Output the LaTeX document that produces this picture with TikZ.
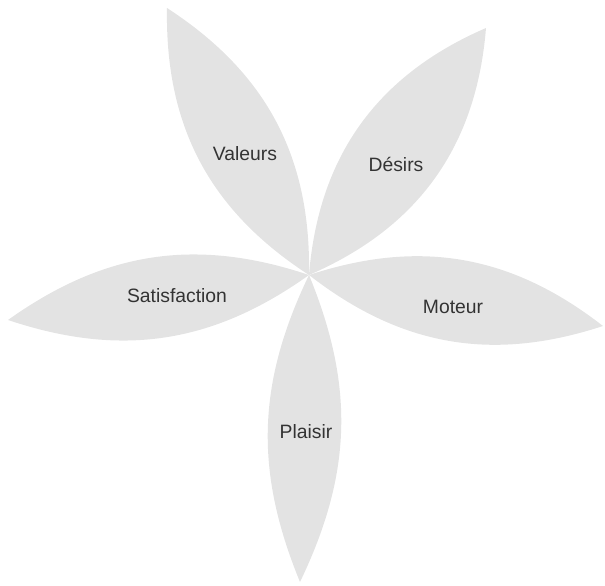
\documentclass[tikz,border=0pt]{standalone}
\usepackage{fontspec}
\setmainfont{Liberation Sans}
\usetikzlibrary{positioning}
\definecolor{PetalGrey}{HTML}{E3E3E3}
\definecolor{PetalText}{HTML}{333333}

\begin{document}
\begin{tikzpicture}[x=0.03cm,y=-0.03cm,
  petal/.style={fill=PetalGrey,draw=none},
  label/.style={text=PetalText,font=\fontsize{16.5}{19}\selectfont,inner sep=0pt}
]
\useasboundingbox (0,0) rectangle (605,586);
\coordinate (heart) at (309,275);
\coordinate (valtip) at (167,8);
\coordinate (destip) at (486,28);
\coordinate (mottip) at (603,326);
\coordinate (plaitip) at (300,582);
\coordinate (sattip) at (8,320);
% petals
\fill[petal] (heart) to[bend left=29] (valtip) to[bend left=29] (heart);
\fill[petal] (heart) to[bend left=31] (destip) to[bend left=31] (heart);
\fill[petal] (heart) to[bend left=28] (mottip) to[bend left=28] (heart);
\fill[petal] (heart) to[bend left=24] (plaitip) to[bend left=24] (heart);
\fill[petal] (heart) to[bend left=27] (sattip) to[bend left=27] (heart);
% labels
\node[label] (valeurs) at (245,154) {Valeurs};
\node[label] (desirs) at (396,164) {Désirs};
\node[label] (moteur) at (453,307) {Moteur};
\node[label] (plaisir) at (306,432) {Plaisir};
\node[label] (satisfaction) at (177,296) {Satisfaction};
\end{tikzpicture}
\end{document}
